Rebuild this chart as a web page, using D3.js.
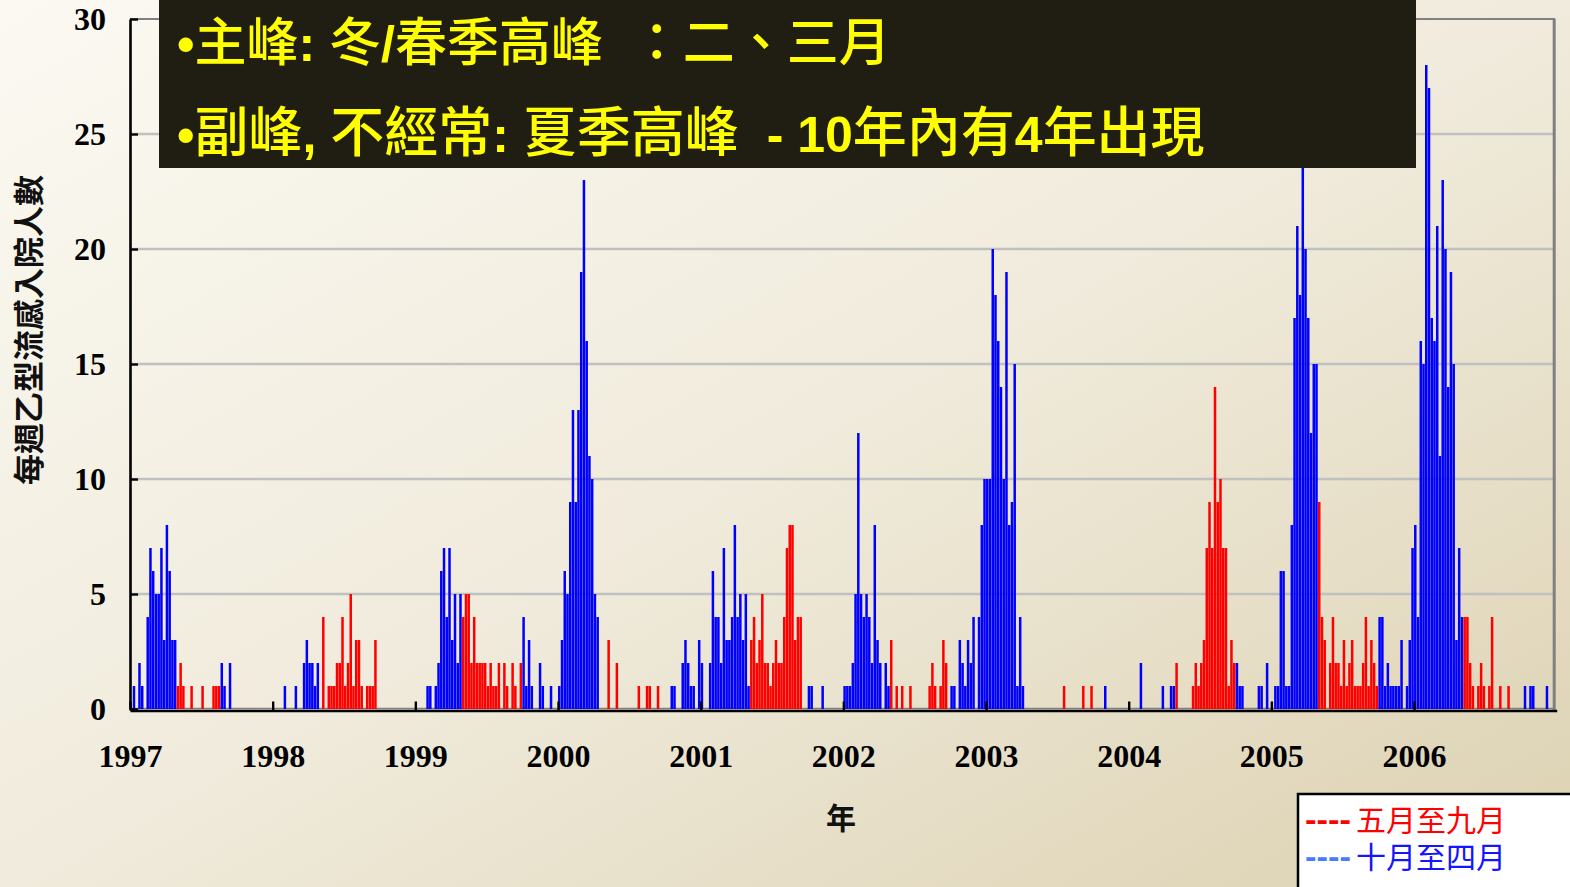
<!DOCTYPE html>
<html><head><meta charset="utf-8">
<script src="https://cdn.jsdelivr.net/npm/d3@7"></script>
<style>
html,body{margin:0;padding:0;}
body{width:1570px;height:887px;overflow:hidden;}
text{white-space:pre;}
</style></head><body>
<svg id="c" width="1570" height="887"></svg>
<script>
// ---------------- DATA ----------------
const years = [1997, 1998, 1999, 2000, 2001, 2002, 2003, 2004, 2005, 2006];
// weekly admissions, 52 weeks per year
const weekly1997 = [0,1,0,2,1,0,4,7,6,5, 5,7,3,8,6,3,3,1,2,1, 0,0,1,0,0,0,1,0,0,0, 1,1,1,2,1,0,2,0,0,0, 0,0,0,0,0,0,0,0,0,0, 0,0];
const weekly1998 = [0,0,0,0,1,0,0,0,1,0, 0,2,3,2,2,1,2,0,4,0, 1,1,1,2,2,4,1,2,5,1, 3,3,1,0,1,1,1,3,0,0, 0,0,0,0,0,0,0,0,0,0, 0,0];
const weekly1999 = [0,0,0,0,1,1,0,1,2,6, 7,4,7,3,5,2,5,4,5,5, 2,4,2,2,2,2,1,2,1,1, 2,0,2,1,0,2,1,0,2,4, 1,3,1,0,0,2,1,0,0,1, 0,0];
const weekly2000 = [1,3,6,5,9,13,9,13,19,23, 16,11,10,5,4,0,0,0,3,0, 0,2,0,0,0,0,0,0,0,1, 0,0,1,1,0,0,1,0,0,0, 0,1,1,0,0,2,3,2,1,1, 0,3];
const weekly2001 = [2,0,0,2,6,4,4,2,7,3, 3,4,8,4,5,3,5,1,3,4, 2,3,5,2,2,1,2,3,2,2, 4,7,8,8,3,4,4,0,0,1, 1,0,0,0,1,0,0,0,0,0, 0,0];
const weekly2002 = [1,1,1,2,5,12,5,4,5,4, 2,8,3,2,0,2,1,3,0,1, 0,1,0,0,1,0,0,0,0,0, 0,1,2,1,0,1,3,2,0,1, 1,0,3,2,1,3,2,4,0,4, 8,10];
const weekly2003 = [10,10,20,18,16,14,10,19,8,9, 15,1,4,1,0,0,0,0,0,0, 0,0,0,0,0,0,0,0,1,0, 0,0,0,0,0,1,0,0,1,0, 0,0,0,1,0,0,0,0,0,0, 0,0];
const weekly2004 = [0,0,0,0,2,0,0,0,0,0, 0,0,1,0,0,1,1,2,0,0, 0,0,0,1,2,1,2,3,7,9, 7,14,9,10,7,7,1,3,2,2, 1,1,0,0,0,0,0,1,1,0, 2,0];
const weekly2005 = [0,1,1,6,6,1,1,8,17,21, 18,24,20,17,12,15,15,9,4,3, 0,2,4,2,2,1,3,1,2,3, 1,1,1,2,4,1,3,2,1,4, 4,1,2,1,1,1,1,3,0,1, 3,7];
const weekly2006 = [8,4,16,15,28,27,17,16,21,11, 23,20,14,19,15,3,7,4,4,4, 2,1,0,1,2,1,0,1,4,0, 0,1,0,0,1,0,0,0,0,0, 1,0,1,1,0,0,0,0,1,0, 0,0];
const weeklyByYear = [weekly1997, weekly1998, weekly1999, weekly2000, weekly2001,
                      weekly2002, weekly2003, weekly2004, weekly2005, weekly2006];
// first and last week (index) counted as 五月至九月 for each year
const summerWeeks = [[17,32],[17,38],[17,38],[17,38],[18,38],[17,38],[17,38],[17,38],[17,38],[18,38]];
const yTicks = [0, 5, 10, 15, 20, 25, 30];
const gridTicks = [5, 10, 15, 20, 25];
const titleLines = ["•主峰: 冬/春季高峰  ：二、三月", "•副峰, 不經常: 夏季高峰  - 10年內有4年出現"];
const yTitle = "每週乙型流感入院人數";
const xTitle = "年";
const legendLabels = ["五月至九月", "十月至四月"];
const seasonKeys = ["summer", "winter"];

// ---------------- CHART ----------------
const svg = d3.select("#c");
const W = 1570, H = 887;
const colors = {summer: "#ff0000", winter: "#0000ff"};

const defs = svg.append("defs");
const grad = defs.append("linearGradient").attr("id","bg")
  .attr("x1","0").attr("y1","0").attr("x2","1").attr("y2","1");
grad.append("stop").attr("offset","0").attr("stop-color","#fbf9f2");
grad.append("stop").attr("offset","0.5").attr("stop-color","#f0ebdc");
grad.append("stop").attr("offset","1").attr("stop-color","#dcd1b1");
svg.append("rect").attr("width",W).attr("height",H).attr("fill","url(#bg)");

const x = d3.scaleLinear().domain([1997, 2007]).range([130, 1556.7]);
const y = d3.scaleLinear().domain([0, 30]).range([709, 19]);

const bars = [];
weeklyByYear.forEach((arr, yi) => {
  const [s, e] = summerWeeks[yi];
  arr.forEach((v, i) => {
    if (v > 0) bars.push({t: years[yi] + i / 52, v, season: (i >= s && i <= e) ? "summer" : "winter"});
  });
});

// grid
svg.append("g").selectAll("line").data(gridTicks).join("line")
  .attr("x1", x(1997)).attr("x2", x(2007) - 2)
  .attr("y1", d => y(d)).attr("y2", d => y(d))
  .attr("stroke", "#c0c0c0").attr("stroke-width", 2.5);

// frame (top/right)
svg.append("line").attr("x1", x(1997)).attr("x2", x(2007) - 1.5).attr("y1", y(30)).attr("y2", y(30))
  .attr("stroke", "#808080").attr("stroke-width", 2);
svg.append("line").attr("x1", x(2007) - 2.5).attr("x2", x(2007) - 2.5).attr("y1", y(30)).attr("y2", y(0) + 1)
  .attr("stroke", "#808080").attr("stroke-width", 3);
svg.append("line").attr("x1", x(1997)).attr("x2", x(2007) - 2.5).attr("y1", y(0) - 0.5).attr("y2", y(0) - 0.5)
  .attr("stroke", "#808080").attr("stroke-width", 1.5);

// bars
svg.append("g").selectAll("rect").data(bars).join("rect")
  .attr("x", d => x(d.t))
  .attr("width", 2.5)
  .attr("y", d => y(d.v))
  .attr("height", d => y(0) - y(d.v))
  .attr("fill", d => colors[d.season]);

// axes
const yAxis = d3.axisLeft(y).tickValues(yTicks).tickSize(-8).tickSizeOuter(0).tickPadding(24);
const gy = svg.append("g").attr("transform", `translate(${x(1997)},0)`).call(yAxis);
const xAxis = d3.axisBottom(x).tickValues(years).tickFormat(d3.format("d")).tickSize(-9).tickSizeOuter(0).tickPadding(34);
const gx = svg.append("g").attr("transform", `translate(0,${y(0) + 1.5})`).call(xAxis);
[gx, gy].forEach(g => {
  g.select(".domain").attr("stroke", "#000").attr("stroke-width", 2.6);
  g.selectAll(".tick line").attr("stroke", "#000").attr("stroke-width", 2.4);
  g.selectAll(".tick text").attr("fill", "#000")
    .attr("font-family", "'Liberation Serif', serif").attr("font-weight", "bold").attr("font-size", 32);
});
gy.selectAll(".tick text").attr("dy", "0.34em");

// axis titles
svg.append("text").attr("transform", "translate(40,330) rotate(-90)")
  .attr("text-anchor", "middle").attr("font-family", "'Noto Sans CJK TC'").attr("font-weight", 700)
  .attr("font-size", 31).attr("fill", "#111").text(yTitle);
svg.append("text").attr("x", 841).attr("y", 829).attr("text-anchor", "middle")
  .attr("font-family", "'Noto Sans CJK TC'").attr("font-weight", 700)
  .attr("font-size", 30).attr("fill", "#111").text(xTitle);

// title box
svg.append("rect").attr("x", 159).attr("y", 0).attr("width", 1257).attr("height", 168).attr("fill", "#201d12");
const cjk = /[\u2E80-\u9FFF\u3000-\u303F\uFF00-\uFFEF]/;
function runs(str) {
  const out = [];
  for (const ch of str) {
    const k = cjk.test(ch);
    if (out.length && out[out.length - 1].k === k) out[out.length - 1].s += ch;
    else out.push({k, s: ch});
  }
  return out;
}
const titleCjkSize = [52, 54];
titleLines.forEach((line, li) => {
  const t = svg.append("text").attr("x", 177).attr("y", li === 0 ? 61 : 152)
    .attr("fill", "#ffff00");
  runs(line).forEach(r => {
    t.append("tspan").text(r.s)
      .attr("font-family", r.k ? "'Noto Sans CJK TC'" : "'Liberation Sans', Arial, sans-serif")
      .attr("font-size", r.k ? titleCjkSize[li] : 50)
      .attr("font-weight", r.k ? 500 : 700);
  });
});

// legend
svg.append("rect").attr("x", 1298).attr("y", 794).attr("width", 280).attr("height", 110)
  .attr("fill", "#fff").attr("stroke", "#000").attr("stroke-width", 2.5);
const dashColors = {summer: "#ff0000", winter: "#4a78ff"};
const textColors = {summer: "#ff0000", winter: "#1414ff"};
legendLabels.forEach((lab, i) => {
  const key = seasonKeys[i];
  const yy = 831 + i * 37;
  svg.append("text").attr("x", 1305).attr("y", yy - 1).attr("fill", dashColors[key])
    .attr("font-family", "'Liberation Sans'").attr("font-weight", 700).attr("font-size", 32)
    .attr("textLength", 46).attr("lengthAdjust", "spacingAndGlyphs").text("----");
  svg.append("text").attr("x", 1356).attr("y", yy).attr("fill", textColors[key])
    .attr("font-family", "'Noto Sans CJK TC'").attr("font-size", 30).text(lab);
});
</script>
</body></html>
